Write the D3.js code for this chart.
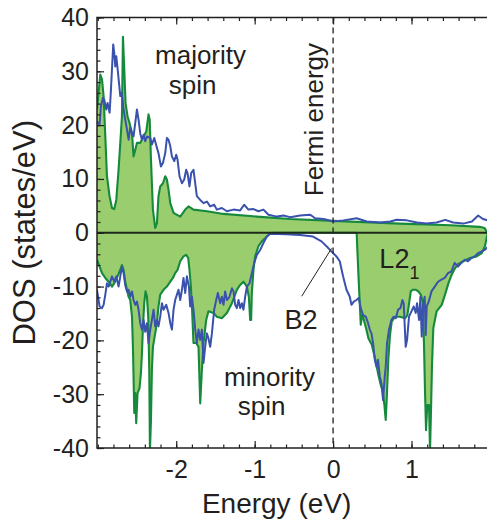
<!DOCTYPE html>
<html>
<head>
<meta charset="utf-8">
<script src="https://cdn.jsdelivr.net/npm/d3@7"></script>
<style>
  body { margin: 0; background: #fff; }
  svg text { font-family: "Liberation Sans", Arial, sans-serif; fill: #231f20; }
</style>
</head>
<body>
<div id="chart"></div>
<script>
// DOS data, [energy (eV), states/eV]
var majorityL21 = [[-3.01,22.9],[-2.968,29.4],[-2.946,28.5],[-2.926,25.4],[-2.904,17.9],[-2.883,10.5],[-2.85,6.8],[-2.819,4.6],[-2.79,4.4],[-2.764,6.1],[-2.735,11.7],[-2.713,16.7],[-2.692,21.6],[-2.679,36.4],[-2.662,30.3],[-2.646,24.1],[-2.62,21.6],[-2.595,20.4],[-2.564,18.5],[-2.544,14.2],[-2.522,15.4],[-2.501,16.7],[-2.459,16.7],[-2.416,17.9],[-2.382,18.8],[-2.353,22.0],[-2.338,21.0],[-2.322,13.6],[-2.297,4.3],[-2.268,0.9],[-2.246,1.8],[-2.226,6.8],[-2.204,8.6],[-2.169,9.2],[-2.14,10.5],[-2.119,9.9],[-2.098,8.0],[-2.076,5.5],[-2.034,3.7],[-1.949,3.0],[-1.885,4.3],[-1.843,4.9],[-1.78,4.3],[-1.609,4.0],[-1.397,3.5],[-0.972,3.0],[-0.548,2.55],[0,2.2],[0.85,1.7],[1.5,1.4],[1.87,1.1],[1.93,0.9],[1.96,0.2],[1.975,0]];

var majorityB2 = [[-3.01,20.7],[-2.977,20.1],[-2.96,23.5],[-2.934,25.1],[-2.917,24.7],[-2.892,22.9],[-2.875,24.1],[-2.849,22.3],[-2.832,26.6],[-2.815,31.6],[-2.803,35.0],[-2.79,33.4],[-2.777,30.9],[-2.764,32.8],[-2.748,30.6],[-2.73,27.9],[-2.713,25.4],[-2.697,26.0],[-2.684,24.7],[-2.671,22.9],[-2.65,21.0],[-2.628,19.2],[-2.607,17.3],[-2.586,19.5],[-2.564,18.5],[-2.544,17.9],[-2.522,20.4],[-2.501,22.9],[-2.48,21.0],[-2.459,18.5],[-2.437,17.3],[-2.416,18.2],[-2.395,17.0],[-2.373,17.9],[-2.331,17.6],[-2.31,16.4],[-2.28,17.6],[-2.246,15.8],[-2.226,14.8],[-2.195,12.3],[-2.169,13.0],[-2.14,14.8],[-2.119,17.6],[-2.098,17.3],[-2.076,16.1],[-2.055,14.2],[-2.025,13.3],[-2.0,14.5],[-1.983,13.6],[-1.958,10.5],[-1.927,9.2],[-1.898,9.9],[-1.873,11.7],[-1.856,11.1],[-1.831,8.6],[-1.809,11.1],[-1.78,11.7],[-1.758,9.2],[-1.737,6.8],[-1.694,6.1],[-1.652,5.5],[-1.609,5.8],[-1.567,4.9],[-1.516,5.2],[-1.482,4.3],[-1.418,4.6],[-1.354,4.0],[-1.27,4.3],[-1.185,4.15],[-1.134,5.2],[-1.079,4.3],[-1.015,4.4],[-0.952,4.0],[-0.888,4.3],[-0.824,3.35],[-0.717,3.0],[-0.633,3.2],[-0.548,2.9],[-0.42,3.2],[-0.29,3.35],[-0.23,2.7],[-0.12,2.55],[0,2.1],[0.13,2.3],[0.3,2.7],[0.43,2.1],[0.6,1.9],[0.73,2.1],[0.81,2.4],[0.94,2.3],[1.07,1.9],[1.19,1.7],[1.32,1.9],[1.43,2.4],[1.53,1.9],[1.66,1.7],[1.77,2.1],[1.85,3.2],[1.91,2.55],[1.975,2.3]];

var minorityL21 = [[-3.01,-5.0],[-2.977,-6.3],[-2.946,-7.5],[-2.904,-8.4],[-2.862,-9.1],[-2.819,-10.0],[-2.79,-9.4],[-2.756,-8.4],[-2.722,-7.2],[-2.692,-6.0],[-2.671,-6.9],[-2.65,-9.1],[-2.628,-10.6],[-2.607,-11.9],[-2.586,-12.5],[-2.564,-15.6],[-2.552,-21.2],[-2.544,-26.7],[-2.535,-33.5],[-2.522,-29.8],[-2.51,-35.4],[-2.493,-29.8],[-2.468,-28.9],[-2.45,-26.1],[-2.437,-22.4],[-2.424,-17.4],[-2.408,-13.1],[-2.391,-10.9],[-2.373,-11.9],[-2.357,-15.6],[-2.344,-25.5],[-2.335,-40.5],[-2.322,-34.8],[-2.31,-25.5],[-2.297,-21.2],[-2.268,-18.7],[-2.246,-16.8],[-2.226,-13.7],[-2.204,-11.5],[-2.162,-10.6],[-2.119,-10.0],[-2.076,-9.1],[-2.042,-8.4],[-2.013,-7.5],[-1.983,-6.9],[-1.949,-5.3],[-1.907,-4.4],[-1.873,-4.1],[-1.847,-4.7],[-1.831,-6.9],[-1.813,-10.0],[-1.796,-14.9],[-1.78,-20.5],[-1.745,-20.5],[-1.716,-21.2],[-1.694,-31.7],[-1.673,-25.5],[-1.652,-20.5],[-1.618,-16.2],[-1.589,-14.6],[-1.525,-14.9],[-1.482,-15.6],[-1.418,-15.9],[-1.354,-14.9],[-1.29,-13.1],[-1.227,-10.6],[-1.185,-9.7],[-1.143,-9.1],[-1.099,-10.0],[-1.074,-11.9],[-1.057,-16.2],[-1.045,-16.2],[-1.036,-11.2],[-1.015,-6.9],[-0.994,-4.4],[-0.952,-2.5],[-0.908,-1.6],[-0.866,-1.0],[-0.824,-0.4],[-0.78,0],[0.30,0],[0.323,-7.8],[0.353,-17.1],[0.369,-15.3],[0.386,-15.9],[0.42,-17.7],[0.45,-19.6],[0.493,-20.8],[0.535,-23.3],[0.577,-26.4],[0.608,-28.3],[0.633,-29.5],[0.654,-32.0],[0.671,-34.8],[0.684,-30.8],[0.705,-23.3],[0.726,-19.0],[0.747,-16.5],[0.79,-15.6],[0.853,-15.6],[0.917,-15.9],[0.947,-15.3],[0.972,-12.8],[0.99,-10.9],[1.015,-10.6],[1.057,-10.6],[1.087,-10.9],[1.117,-11.5],[1.143,-12.8],[1.159,-20.8],[1.172,-29.5],[1.185,-36.7],[1.201,-32.0],[1.223,-32.0],[1.236,-40.5],[1.248,-33.2],[1.261,-24.6],[1.278,-17.7],[1.32,-14.6],[1.385,-13.4],[1.427,-11.5],[1.47,-9.4],[1.512,-7.8],[1.554,-6.6],[1.596,-5.8],[1.66,-5.3],[1.745,-4.7],[1.83,-4.4],[1.894,-3.8],[1.936,-2.5],[1.957,-1.0],[1.975,0]];

var minorityB2 = [[-3.01,-10.6],[-2.977,-13.7],[-2.946,-14.0],[-2.926,-13.4],[-2.904,-11.5],[-2.883,-9.4],[-2.862,-10.0],[-2.841,-9.1],[-2.819,-8.1],[-2.79,-9.1],[-2.764,-8.1],[-2.735,-10.0],[-2.713,-8.1],[-2.692,-6.3],[-2.671,-7.5],[-2.65,-9.7],[-2.628,-10.9],[-2.607,-10.6],[-2.586,-11.9],[-2.564,-10.9],[-2.544,-12.5],[-2.522,-13.4],[-2.501,-12.8],[-2.48,-14.3],[-2.459,-16.8],[-2.437,-18.0],[-2.416,-16.2],[-2.395,-18.4],[-2.373,-16.8],[-2.353,-20.5],[-2.331,-18.0],[-2.31,-16.2],[-2.289,-14.3],[-2.268,-17.4],[-2.246,-16.2],[-2.226,-17.4],[-2.204,-15.6],[-2.182,-13.1],[-2.162,-14.3],[-2.127,-13.4],[-2.098,-14.9],[-2.076,-16.8],[-2.055,-18.0],[-2.034,-14.3],[-2.013,-12.5],[-1.991,-11.5],[-1.971,-10.6],[-1.949,-12.5],[-1.927,-10.6],[-1.907,-8.4],[-1.885,-11.2],[-1.864,-8.1],[-1.838,-10.0],[-1.822,-13.7],[-1.8,-11.9],[-1.78,-14.3],[-1.758,-18.0],[-1.737,-20.5],[-1.716,-18.0],[-1.694,-19.9],[-1.673,-18.0],[-1.652,-24.2],[-1.631,-21.2],[-1.609,-18.7],[-1.589,-19.6],[-1.567,-21.2],[-1.545,-18.7],[-1.516,-14.3],[-1.49,-12.5],[-1.469,-11.2],[-1.439,-13.1],[-1.418,-11.9],[-1.397,-13.4],[-1.376,-10.9],[-1.354,-12.5],[-1.321,-11.9],[-1.29,-10.3],[-1.27,-10.9],[-1.248,-13.4],[-1.227,-14.0],[-1.206,-12.5],[-1.185,-14.0],[-1.163,-13.1],[-1.143,-14.3],[-1.121,-11.9],[-1.099,-10.0],[-1.066,-9.4],[-1.036,-7.5],[-1.006,-5.6],[-0.972,-4.1],[-0.93,-3.2],[-0.888,-1.9],[-0.845,-0.7],[-0.803,-0.2],[-0.6,-0.3],[-0.42,-0.4],[-0.255,-0.7],[-0.148,-1.6],[-0.064,-2.8],[-0.02,-3.5],[0.043,-4.4],[0.085,-5.3],[0.127,-8.1],[0.171,-10.6],[0.213,-11.9],[0.234,-13.4],[0.264,-12.8],[0.298,-12.5],[0.327,-12.1],[0.353,-14.0],[0.382,-15.3],[0.417,-15.6],[0.446,-16.8],[0.468,-18.0],[0.489,-18.7],[0.51,-20.5],[0.531,-23.6],[0.553,-24.9],[0.573,-23.6],[0.595,-26.7],[0.617,-28.0],[0.637,-31.1],[0.659,-26.7],[0.671,-24.9],[0.688,-20.5],[0.713,-18.0],[0.744,-16.2],[0.773,-15.6],[0.799,-15.9],[0.828,-14.3],[0.859,-14.0],[0.884,-12.5],[0.9,-13.1],[0.926,-21.2],[0.943,-19.9],[0.968,-15.6],[0.999,-14.6],[1.028,-13.7],[1.054,-14.9],[1.07,-13.1],[1.096,-16.2],[1.113,-11.9],[1.13,-19.3],[1.146,-13.7],[1.168,-11.9],[1.181,-19.0],[1.194,-13.7],[1.219,-12.8],[1.254,-10.9],[1.296,-10.0],[1.338,-9.1],[1.381,-8.7],[1.423,-8.4],[1.465,-7.5],[1.508,-7.2],[1.55,-5.6],[1.592,-6.3],[1.636,-5.6],[1.678,-5.0],[1.72,-5.3],[1.763,-4.7],[1.805,-4.4],[1.847,-3.8],[1.89,-3.5],[1.933,-3.2],[1.975,-2.6]];

var xTicks = [-2, -1, 0, 1];
var yTicks = [-40, -30, -20, -10, 0, 10, 20, 30, 40];

var width = 487, height = 526;
var margin = {top: 17.5, right: -1, bottom: 78, left: 97};
var w = width - margin.left - margin.right,
    h = height - margin.top - margin.bottom;

var svg = d3.select("#chart").append("svg")
    .attr("width", width)
    .attr("height", height);

var g = svg.append("g")
    .attr("transform", "translate(" + margin.left + "," + margin.top + ")");

var x = d3.scaleLinear().domain([-3.01, 1.975]).range([0, w]);
var y = d3.scaleLinear().domain([-40, 40]).range([h, 0]);

g.append("clipPath").attr("id", "clip")
  .append("rect").attr("width", w).attr("height", h);

var plot = g.append("g").attr("clip-path", "url(#clip)");

var area = d3.area()
    .x(function(d) { return x(d[0]); })
    .y0(y(0))
    .y1(function(d) { return y(d[1]); });
var line = d3.line()
    .x(function(d) { return x(d[0]); })
    .y(function(d) { return y(d[1]); });

// L2_1 filled
[majorityL21, minorityL21].forEach(function(s) {
  plot.append("path").datum(s).attr("d", area).attr("fill", "#9acd6e");
});
[majorityL21, minorityL21].forEach(function(s) {
  plot.append("path").datum(s).attr("d", line)
    .attr("fill", "none").attr("stroke", "#168a3c").attr("stroke-width", 2.1)
    .attr("stroke-linejoin", "round");
});
// B2 lines
[majorityB2, minorityB2].forEach(function(s) {
  plot.append("path").datum(s).attr("d", line)
    .attr("fill", "none").attr("stroke", "#3a52ad").attr("stroke-width", 2)
    .attr("stroke-linejoin", "round");
});

// zero line
plot.append("line")
  .attr("x1", 0).attr("x2", w).attr("y1", y(0)).attr("y2", y(0))
  .attr("stroke", "#1c2a1c").attr("stroke-width", 2);

// Fermi level
plot.append("line")
  .attr("x1", x(0)).attr("x2", x(0)).attr("y1", 0).attr("y2", h)
  .attr("stroke", "#231f20").attr("stroke-width", 1.3)
  .attr("stroke-dasharray", "6,4");

// axes
function styleAxis(sel) {
  sel.select(".domain").remove();
  sel.selectAll(".tick line").attr("stroke", "#231f20").attr("stroke-width", 1.2);
  sel.selectAll("text").style("font-size", "25px").attr("fill", "#231f20");
}
var fmt = function(d) { return String(d); };
var minorX = d3.range(-3.0, 1.99, 0.2).map(function(v) { return Math.round(v * 10) / 10; });
var minorY = d3.range(-40, 41, 2);

g.append("g").attr("transform", "translate(0," + h + ")")
  .call(d3.axisBottom(x).tickValues(minorX).tickSize(-3.5).tickFormat(""))
  .call(styleAxis);
g.append("g").attr("transform", "translate(0," + h + ")")
  .call(d3.axisBottom(x).tickValues(xTicks).tickSize(-7).tickPadding(12).tickFormat(fmt))
  .call(styleAxis);
g.append("g")
  .call(d3.axisTop(x).tickValues(minorX).tickSize(-3.5).tickFormat(""))
  .call(styleAxis);
g.append("g")
  .call(d3.axisTop(x).tickValues(xTicks).tickSize(-7).tickFormat(""))
  .call(styleAxis);
g.append("g")
  .call(d3.axisLeft(y).tickValues(minorY).tickSize(-3.5).tickFormat(""))
  .call(styleAxis);
g.append("g")
  .call(d3.axisLeft(y).tickValues(yTicks).tickSize(-7).tickPadding(8).tickFormat(fmt))
  .call(styleAxis);

// frame
g.append("rect").attr("width", w).attr("height", h)
  .attr("fill", "none").attr("stroke", "#231f20").attr("stroke-width", 1.5);

// axis titles
svg.append("text")
  .attr("x", margin.left + x(-0.72)).attr("y", 513)
  .attr("text-anchor", "middle").style("font-size", "28px")
  .text("Energy (eV)");
svg.append("text")
  .attr("transform", "translate(35," + (margin.top + y(0)) + ") rotate(-90)")
  .attr("text-anchor", "middle").style("font-size", "31px")
  .text("DOS (states/eV)");

// annotations
function ann(txt, ex, ey, size, anchor) {
  return g.append("text")
    .attr("x", x(ex)).attr("y", y(ey))
    .attr("text-anchor", anchor || "middle")
    .style("font-size", size + "px")
    .text(txt);
}
ann("majority", -1.69, 31.3, 26);
ann("spin", -1.79, 25.7, 26);
ann("minority", -0.81, -28.5, 26);
ann("spin", -0.91, -33.9, 26);
ann("B2", -0.41, -17.8, 27);

var l2 = g.append("text")
  .attr("x", x(0.59)).attr("y", y(-6.6))
  .style("font-size", "27px");
l2.append("tspan").text("L2");
l2.append("tspan").attr("dy", 11).style("font-size", "18px").text("1");

g.append("line")
  .attr("x1", x(-0.40)).attr("y1", y(-11.8))
  .attr("x2", x(-0.02)).attr("y2", y(-2.9))
  .attr("stroke", "#231f20").attr("stroke-width", 1);

g.append("text")
  .attr("transform", "translate(" + (x(0) - 10) + "," + y(6.8) + ") rotate(-90)")
  .style("font-size", "26px")
  .text("Fermi energy");
</script>
</body>
</html>
